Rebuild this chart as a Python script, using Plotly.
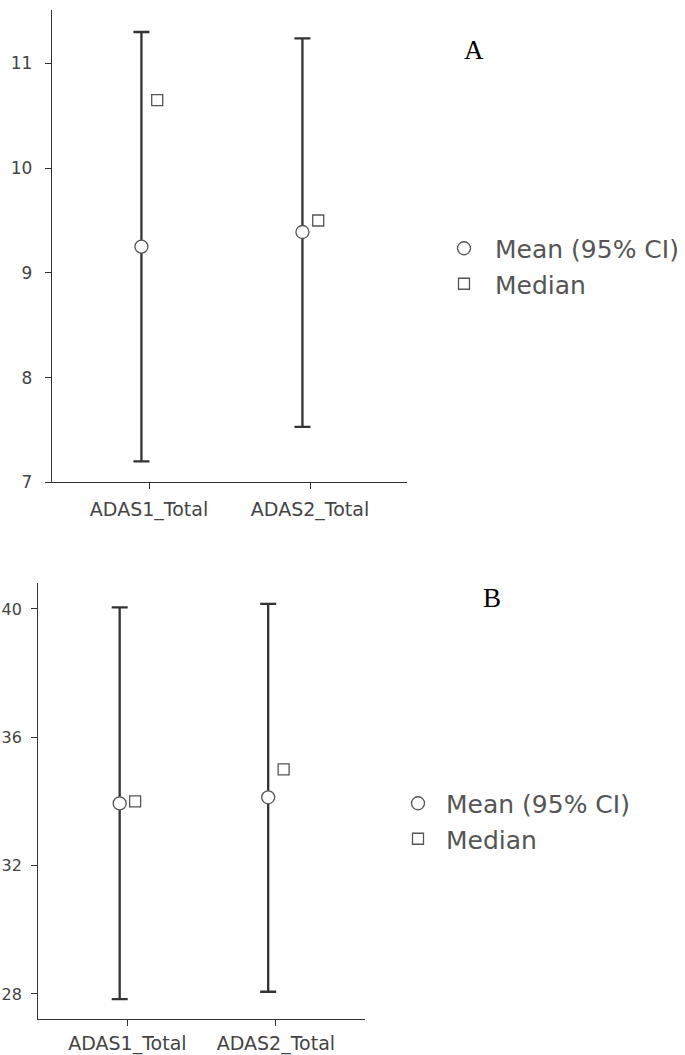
import plotly.graph_objects as go

# ---------------- data ----------------
categories = ["ADAS1_Total", "ADAS2_Total"]
cat_pos = [1, 2]

# Panel A
mean_A = [9.25, 9.39]
lower_A = [7.20, 7.53]
upper_A = [11.30, 11.24]
median_A = [10.65, 9.50]

# Panel B
mean_B = [33.94, 34.13]
lower_B = [27.84, 28.07]
upper_B = [40.05, 40.16]
median_B = [34.0, 35.0]

yticks_A = [7, 8, 9, 10, 11]
yticks_B = [28, 32, 36, 40]

# ---------------- style ----------------
W, H = 685, 1055
INK = "#333333"
MARK_LINE = "#555555"
FONT = "DejaVu Sans"

DODGE_MEAN_A, DODGE_MED_A = -0.047, 0.051
DODGE_MEAN_B, DODGE_MED_B = -0.052, 0.052

fig = go.Figure()


def add_panel(mean, lo, hi, med, xa, ya, legend, dm, dmed):
    fig.add_trace(go.Scatter(
        x=[p + dm for p in cat_pos], y=mean,
        mode="markers", name="Mean (95% CI)",
        xaxis=xa, yaxis=ya, legend=legend,
        marker=dict(symbol="circle", size=13, color="white",
                    line=dict(color=MARK_LINE, width=1.3)),
        error_y=dict(type="data", symmetric=False,
                     array=[h - m for h, m in zip(hi, mean)],
                     arrayminus=[m - l for m, l in zip(mean, lo)],
                     color=INK, thickness=2.3, width=8),
    ))
    fig.add_trace(go.Scatter(
        x=[p + dmed for p in cat_pos], y=med,
        mode="markers", name="Median",
        xaxis=xa, yaxis=ya, legend=legend,
        marker=dict(symbol="square", size=11, color="white",
                    line=dict(color=MARK_LINE, width=1.3)),
    ))


add_panel(mean_A, lower_A, upper_A, median_A, "x", "y", "legend", DODGE_MEAN_A, DODGE_MED_A)
add_panel(mean_B, lower_B, upper_B, median_B, "x2", "y2", "legend2", DODGE_MEAN_B, DODGE_MED_B)


def px_x(v):
    return v / W


def px_y(v):
    return (H - v) / H


axis_common = dict(showline=True, linecolor=INK, linewidth=1.3, showgrid=False,
                   zeroline=False, ticks="outside", ticklen=6, tickwidth=1.3,
                   tickcolor=INK, mirror=False, automargin=False)

fig.update_layout(
    width=W, height=H,
    margin=dict(l=0, r=0, t=0, b=0),
    paper_bgcolor="white", plot_bgcolor="white",
    font=dict(family=FONT, color=INK),
    xaxis=dict(domain=[px_x(52), px_x(407)], range=[0.3975, 2.6025], anchor="y",
               tickvals=cat_pos, ticktext=categories,
               tickfont=dict(size=19, color="#444444"), ticklabelstandoff=4, **axis_common),
    yaxis=dict(domain=[px_y(482.3), px_y(10)], range=[7, 11.51], anchor="x",
               tickvals=yticks_A, tickfont=dict(size=17, color="#444444"),
               ticklabelstandoff=9, **axis_common),
    xaxis2=dict(domain=[px_x(38.3), px_x(365)], range=[0.4, 2.6], anchor="y2",
                tickvals=cat_pos, ticktext=categories,
                tickfont=dict(size=19, color="#444444"), ticklabelstandoff=1, **axis_common),
    yaxis2=dict(domain=[px_y(1019), px_y(583.3)], range=[27.22, 40.80], anchor="x2",
                tickvals=yticks_B, tickfont=dict(size=16, color="#444444"),
                ticklabelstandoff=6, **axis_common),
    legend=dict(x=px_x(433), xanchor="left", y=px_y(266), yanchor="middle",
                itemwidth=52, font=dict(size=25, color="#555555", family=FONT),
                bgcolor="rgba(0,0,0,0)", borderwidth=0),
    legend2=dict(x=px_x(390), xanchor="left", y=px_y(821), yanchor="middle",
                 itemwidth=46, font=dict(size=25, color="#555555", family=FONT),
                 bgcolor="rgba(0,0,0,0)", borderwidth=0),
    annotations=[
        dict(text="A", xref="paper", yref="paper", x=px_x(474), y=px_y(50.5),
             xanchor="center", yanchor="middle", showarrow=False,
             font=dict(family="Liberation Serif", size=27, color="black")),
        dict(text="B", xref="paper", yref="paper", x=px_x(491.7), y=px_y(597.8),
             xanchor="center", yanchor="middle", showarrow=False,
             font=dict(family="Liberation Serif", size=27, color="black")),
    ],
)

fig.write_html("out.html")
